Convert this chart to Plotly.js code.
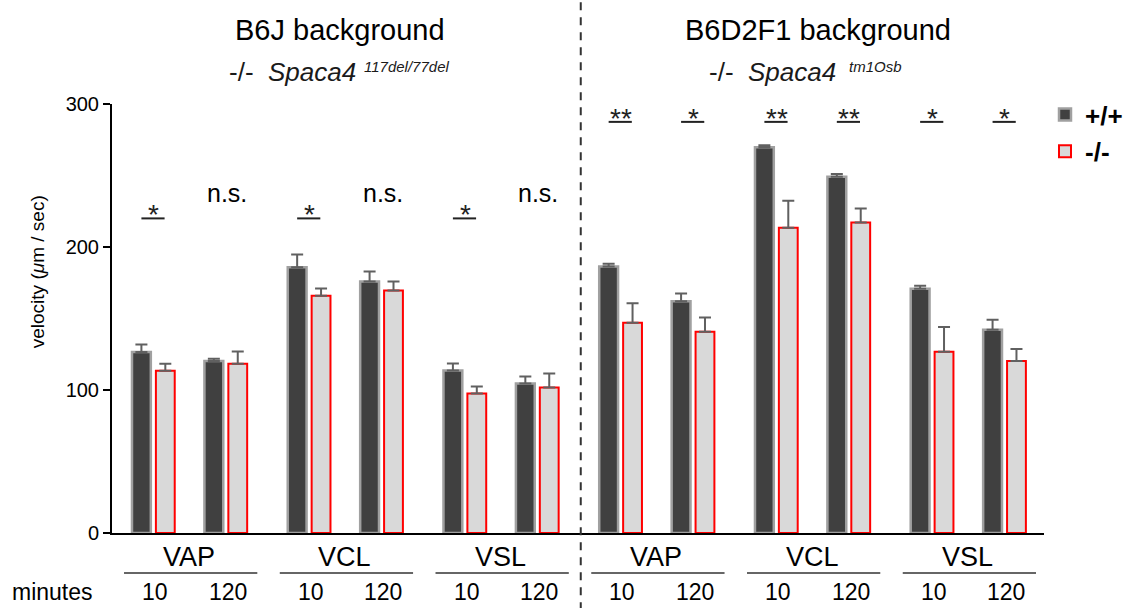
<!DOCTYPE html>
<html>
<head>
<meta charset="utf-8">
<script src="https://cdn.plot.ly/plotly-3.0.1.min.js"></script>
<style>html,body{margin:0;padding:0;background:#fff;}#chart{width:1139px;height:608px;}</style>
</head>
<body>
<div id="chart"></div>
<script>
// ---- data ----
const backgrounds = ['B6J background', 'B6D2F1 background'];
const genotypeLines = ['117del/77del', 'tm1Osb'];
const metrics = ['VAP', 'VCL', 'VSL'];
const minutes = ['10', '120'];
const seriesNames = ['+/+', '-/-'];
const yTitle = 'velocity (<i>μ</i>m / sec)';
// order: background -> metric -> minutes
const wtMean = [126.5, 120.2, 185.9, 175.9, 113.7, 104.6, 186.4, 162.1, 269.8, 249.1, 170.8, 142.1];
const wtErr  = [5.4, 1.7, 8.9, 7.0, 4.9, 4.9, 1.9, 5.4, 1.4, 1.9, 2.1, 7.0];
const koMean = [113.5, 118.4, 165.9, 169.6, 97.6, 101.8, 147.0, 140.7, 213.5, 217.2, 126.8, 120.2];
const koErr  = [4.9, 8.6, 5.1, 6.3, 4.9, 9.8, 13.7, 10.0, 18.9, 9.8, 17.2, 8.4];
const sigLabels = ['*', 'n.s.', '*', 'n.s.', '*', 'n.s.', '**', '*', '**', '**', '*', '*'];

// ---- layout helpers ----
const FONT = 'Liberation Sans, Arial, Helvetica, sans-serif';
const metricStep = 2.15;
const pos = [];
for (let b = 0; b < backgrounds.length; b++)
  for (let m = 0; m < metrics.length; m++)
    for (let t = 0; t < minutes.length; t++)
      pos.push((b * metrics.length + m) * metricStep + t);

const traces = [
  {
    type: 'bar', name: seriesNames[0], x: pos, y: wtMean,
    width: 0.26, offset: -0.29, legendgroup: 'a',
    marker: {color: '#404040', line: {color: '#a0a0a0', width: 2.5}},
    error_y: {type: 'data', symmetric: false, array: wtErr, arrayminus: wtErr.map(() => 0),
              color: '#606060', thickness: 2, width: 6}
  },
  {
    type: 'bar', name: seriesNames[1], x: pos, y: koMean,
    width: 0.26, offset: 0.04, legendgroup: 'b',
    marker: {color: '#d9d9d9', line: {color: '#ff0000', width: 2}},
    error_y: {type: 'data', symmetric: false, array: koErr, arrayminus: koErr.map(() => 0),
              color: '#606060', thickness: 2, width: 6}
  }
];

const annotations = [];
const shapes = [];

// panel titles
const titleX = [0.2444, 0.7578];
const subX = [0.194, 0.709];
const supX = [0.268, 0.789];
for (let b = 0; b < backgrounds.length; b++) {
  annotations.push({xref: 'paper', yref: 'paper', x: titleX[b], y: 1.1725, xanchor: 'center', yanchor: 'middle',
    text: backgrounds[b], showarrow: false, font: {family: FONT, size: 29, color: '#000'}});
  annotations.push({xref: 'paper', yref: 'paper', x: subX[b], y: 1.0746, xanchor: 'center', yanchor: 'middle',
    text: '-/-\u00a0\u00a0<i>Spaca4</i>', showarrow: false, font: {family: FONT, size: 26, color: '#1a1a1a'}});
  annotations.push({xref: 'paper', yref: 'paper', x: supX[b], y: 1.088, xanchor: 'left', yanchor: 'middle',
    text: '<i>' + genotypeLines[b] + '</i>', showarrow: false, font: {family: FONT, size: 15, color: '#1a1a1a'}});
}

// y axis title (placed as in the reference, above the axis centre)
annotations.push({xref: 'paper', yref: 'paper', x: -0.0804, y: 0.608, xanchor: 'center', yanchor: 'middle',
  textangle: -90, text: yTitle, showarrow: false, font: {family: FONT, size: 19, color: '#000'}});

// dashed separator between backgrounds
const sepX = (pos[5] + pos[6]) / 2 + 0.03;
shapes.push({type: 'line', xref: 'x', yref: 'paper', x0: sepX, x1: sepX, y0: -0.18, y1: 1.25,
  line: {color: '#333', width: 2, dash: '8px,7px'}});

// metric labels + underlines, minute labels
for (let b = 0; b < backgrounds.length; b++) {
  for (let m = 0; m < metrics.length; m++) {
    const c = (b * metrics.length + m) * metricStep + 0.5;
    annotations.push({xref: 'x', yref: 'paper', x: c, y: -0.056, xanchor: 'center', yanchor: 'middle',
      text: metrics[m], showarrow: false, font: {family: FONT, size: 27, color: '#000'}});
    shapes.push({type: 'line', xref: 'x', yref: 'paper', x0: c - 0.9, x1: c + 0.94, y0: -0.093, y1: -0.093,
      line: {color: '#333', width: 1.5}});
  }
}
for (let i = 0; i < pos.length; i++) {
  annotations.push({xref: 'x', yref: 'paper', x: pos[i] + 0.03, y: -0.138, xanchor: 'center', yanchor: 'middle',
    text: minutes[i % 2], showarrow: false, font: {family: FONT, size: 23, color: '#000'}});
}
annotations.push({xref: 'paper', yref: 'paper', x: -0.0643, y: -0.138, xanchor: 'center', yanchor: 'middle',
  text: 'minutes', showarrow: false, font: {family: FONT, size: 23, color: '#000'}});

// significance marks
const sigLineY = [220, 287.5];
const nsY = 238;
for (let i = 0; i < pos.length; i++) {
  const b = i < 6 ? 0 : 1;
  const lab = sigLabels[i];
  if (lab === 'n.s.') {
    annotations.push({xref: 'x', yref: 'y', x: pos[i] + 0.02, y: nsY, xanchor: 'center', yanchor: 'middle',
      text: lab, showarrow: false, font: {family: FONT, size: 25, color: '#000'}});
  } else {
    shapes.push({type: 'line', xref: 'x', yref: 'y', x0: pos[i] - 0.16, x1: pos[i] + 0.16,
      y0: sigLineY[b], y1: sigLineY[b], line: {color: '#222', width: 2}});
    annotations.push({xref: 'x', yref: 'y', x: pos[i] + 0.01, y: sigLineY[b], xanchor: 'center', yanchor: 'bottom',
      yshift: -14, text: lab, showarrow: false, font: {family: FONT, size: 28, color: '#222'}});
  }
}

const layout = {
  width: 1139, height: 608,
  margin: {l: 112, r: 94, t: 104, b: 75, pad: 0},
  paper_bgcolor: '#fff', plot_bgcolor: '#fff',
  font: {family: FONT, color: '#000'},
  barmode: 'overlay',
  showlegend: true,
  legend: {x: 1.0, y: 1.03, xanchor: 'left', yanchor: 'top', tracegroupgap: 0,
    font: {family: FONT, size: 26, color: '#000', weight: 'bold'}, bgcolor: 'rgba(0,0,0,0)'},
  xaxis: {range: [-0.566, 12.3], showline: true, linecolor: '#000', linewidth: 2,
    showticklabels: false, ticks: '', showgrid: false, zeroline: false, fixedrange: true},
  yaxis: {range: [0, 300], tickvals: [0, 100, 200, 300], showline: true, linecolor: '#000', linewidth: 2,
    ticks: 'outside', ticklen: 7, tickwidth: 2, tickcolor: '#000', showgrid: false, zeroline: false,
    tickfont: {family: FONT, size: 20, color: '#000'}},
  annotations: annotations,
  shapes: shapes
};

Plotly.newPlot('chart', traces, layout, {displayModeBar: false, staticPlot: true});
</script>
</body>
</html>
